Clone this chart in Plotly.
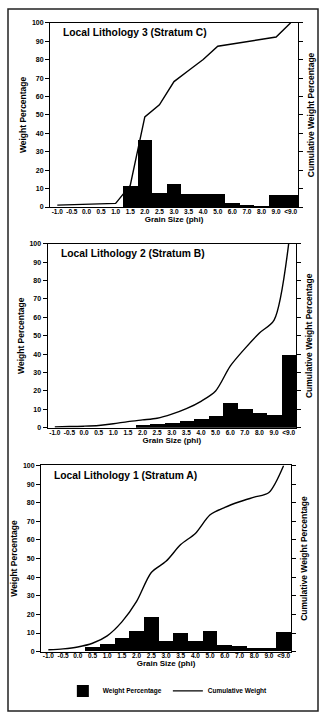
import plotly.graph_objects as go

# Grain-size classes (phi) shared by all three strata
grain_sizes = ["-1.0", "-0.5", "0.0", "0.5", "1.0", "1.5", "2.0", "2.5", "3.0",
               "3.5", "4.0", "5.0", "6.0", "7.0", "8.0", "9.0", "<9.0"]

# Local Lithology 3 (Stratum C)
weight_c = [0, 0, 0, 0, 0, 11.3, 36.5, 7.6, 12.5, 7.0, 7.0, 7.0, 2.3, 1.4, 0.4, 6.7, 6.7]
cumul_c = [1.0, 1.3, 1.5, 1.7, 2.0, 11.7, 48.9, 55.5, 68.1, 74.1, 80.1, 87.3, 88.5, 89.7, 91.0, 92.3, 100]

# Local Lithology 2 (Stratum B)
weight_b = [0, 0, 0, 0, 0, 0, 1.6, 2.2, 3.0, 4.0, 4.8, 6.8, 13.7, 10.2, 8.4, 6.9, 39.9]
cumul_b = [0.5, 0.7, 0.9, 1.3, 2.2, 3.4, 4.3, 5.2, 7.4, 10.4, 14.4, 20.0, 33.5, 43.0, 51.5, 58.5, 100]

# Local Lithology 1 (Stratum A)
weight_a = [0, 0, 0, 2.5, 4.1, 7.1, 10.6, 18.1, 5.7, 9.9, 5.3, 10.6, 3.5, 2.7, 1.6, 1.8, 10.5]
cumul_a = [1.0, 1.5, 2.5, 4.5, 8.5, 16.0, 27.0, 42.5, 48.5, 57.5, 63.5, 73.5, 77.5, 80.5, 83.0, 85.5, 100]

panel_titles = ["Local Lithology 3 (Stratum C)",
                "Local Lithology 2 (Stratum B)",
                "Local Lithology 1 (Stratum A)"]

W, H = 324, 720
FONT = "Liberation Sans, Arial, sans-serif"

# pixel boxes of the three plot areas: (left, right, top, bottom)
boxes = [(50, 298, 19, 205), (47.5, 296, 242, 428), (41, 291, 466, 654)]
line_shapes = ["linear", "spline", "spline"]
series = [(weight_c, cumul_c), (weight_b, cumul_b), (weight_a, cumul_a)]


def px_x(v):
    return v / W


def px_y(v):
    return 1 - v / H


def bold(size):
    return dict(family=FONT, size=size, color="black", weight="bold")


fig = go.Figure()
layout = dict(
    width=W, height=H, margin=dict(l=0, r=0, t=0, b=0),
    paper_bgcolor="white", plot_bgcolor="white",
    bargap=0, showlegend=True,
    legend=dict(orientation="h", x=0.194, y=px_y(679), xanchor="left", yanchor="top",
                font=bold(6.5), itemwidth=30, entrywidth=60, bgcolor="rgba(0,0,0,0)",
                traceorder="normal"),
)

annotations = []
for k, ((left, right, top, bottom), (weights, cumul), title, shape) in enumerate(
        zip(boxes, series, panel_titles, line_shapes), start=1):
    xa = "x" if k == 1 else f"x{k}"
    ya = f"y{2 * k - 1}" if k > 1 else "y"
    yb = f"y{2 * k}"
    last = (k == 3)

    fig.add_trace(go.Bar(
        x=grain_sizes, y=weights, xaxis=xa, yaxis=ya,
        name="Weight Percentage", marker=dict(color="black", line=dict(width=0)),
        showlegend=last, legendrank=1,
    ))
    fig.add_trace(go.Scatter(
        x=grain_sizes, y=cumul, xaxis=xa, yaxis=yb, mode="lines",
        name="Cumulative Weight", line=dict(color="black", width=1.4, shape=shape, smoothing=0.8),
        showlegend=last, legendrank=2,
    ))

    xkey = "xaxis" if k == 1 else f"xaxis{k}"
    ykey1 = "yaxis" if k == 1 else f"yaxis{2 * k - 1}"
    ykey2 = f"yaxis{2 * k}"

    layout[xkey] = dict(
        domain=[px_x(left), px_x(right)], anchor=ya, type="category",
        categoryorder="array", categoryarray=grain_sizes,
        showline=True, linecolor="black", linewidth=1, mirror=True,
        ticks="", tickangle=0, tickfont=bold(6.5), showgrid=False,
        ticklabelstandoff=-2,
        title=dict(text="Grain Size (phi)", font=bold(8), standoff=0),
    )
    layout[ykey1] = dict(
        domain=[px_y(bottom), px_y(top)], anchor=xa, range=[0, 100], dtick=10,
        showline=True, linecolor="black", linewidth=1, ticks="outside", ticklen=4,
        tickcolor="black", tickfont=bold(7), showgrid=False, zeroline=False,
        title=dict(text="Weight Percentage", font=bold(8.5), standoff=3),
    )
    layout[ykey2] = dict(
        overlaying=ya, side="right", anchor=xa, range=[0, 100], dtick=10,
        showline=True, linecolor="black", linewidth=1, ticks="outside", ticklen=4,
        tickcolor="black", showticklabels=False, showgrid=False, zeroline=False,
        title=dict(text="Cumulative Weight Percentage", font=bold(8.5), standoff=6),
    )

    annotations.append(dict(
        text=title, xref="paper", yref="paper", x=px_x(left + 11), y=px_y(top + 10),
        xanchor="left", yanchor="middle", showarrow=False, font=bold(10.3),
    ))

layout["annotations"] = annotations
layout["shapes"] = [dict(type="rect", xref="paper", yref="paper",
                         x0=px_x(8), x1=px_x(318), y0=px_y(714), y1=px_y(5),
                         line=dict(color="#222", width=1.5))]

fig.update_layout(**layout)
fig.write_html("out.html")
